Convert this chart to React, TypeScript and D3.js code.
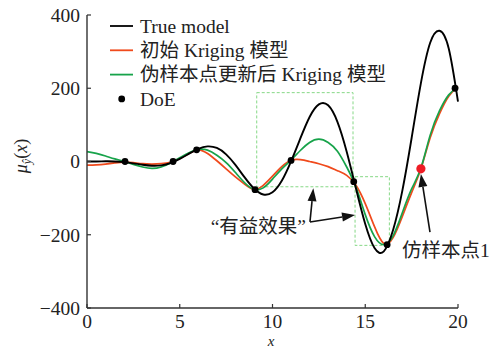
import { scaleLinear, line, curveNatural } from "d3"

// sample positions along x, shared by the three curves
const xs = [0, 0.5, 1, 1.5, 2, 2.5, 3, 3.5, 4, 4.5, 5, 5.5, 6, 6.5, 7, 7.5, 8, 8.5, 9, 9.5, 10,
  10.5, 11, 11.5, 12, 12.5, 13, 13.5, 14, 14.5, 15, 15.5, 16, 16.5, 17, 17.5, 18, 18.5, 19, 19.5, 20]
const trueModel = [0, 0.2, 0.5, 0.2, -1.7, -5, -8.9, -11.5, -10.5, -4.3, 7.1, 21.4, 34.6, 41.3, 36.9, 19.5,
  -9.3, -43.5, -73.8, -90, -83.9, -52.5, 0.5, 62.9, 121.5, 155.9, 153.4, 108.4, 26.8, -73.8, -170.9,
  -236.5, -245.2, -187.2, -79.5, 64.2, 213.9, 324.1, 356.9, 308.6, 163.2]
const initKriging = [-10, -9, -7, -4, -1.5, -3, -6, -7, -6, -2, 8, 22, 32, 22, 2, -20, -42, -62, -76, -65,
  -40, -14, 3, 5, 0, -6, -14, -25, -38, -65, -115, -178, -224, -208, -150, -85, -20, 65, 130, 178, 205]
const updKriging = [27, 22, 15, 7, 0.5, -8, -15, -19, -15, -4, 10, 24, 33, 31, 17, -3, -30, -58, -76, -72,
  -48, -20, 4, 30, 52, 61, 52, 28, -15, -70, -145, -205, -227, -203, -140, -75, -18, 72, 138, 182, 203]

const doeX = [2.05, 4.64, 5.91, 9.06, 11.0, 14.38, 16.18, 19.84]
const doeY = [0, 0, 32, -77, 3, -55, -227, 200]
const pseudoX = [18.0]
const pseudoY = [-20]

const xTicks = [0, 5, 10, 15, 20]
const yTicks = [-400, -200, 0, 200, 400]

const legendLabels = ["True model", "初始 Kriging 模型", "伪样本点更新后 Kriging 模型", "DoE"]

// dashed "beneficial effect" boxes: [x0, x1, y0, y1] in data units
const boxes = [[9.15, 14.34, -69, 188], [14.45, 16.3, -229, -41.5]]
// arrows: [fromX, fromY, toX, toY] in data units
const arrows = [[12.02, -165, 12.2, -73], [12.02, -165, 14.45, -146], [18.49, -193, 18.0, -34]]

const W = 491
const H = 350
const FONT = "'Liberation Serif', 'Times New Roman', 'Noto Sans CJK SC', serif"
const BLACK = "#000"
const ORANGE = "#f04a1c"
const GREEN = "#17a34a"
const BOXGREEN = "#86d886"

const Arrow = ({x1, y1, x2, y2}) => {
  const a = Math.atan2(y2 - y1, x2 - x1)
  const len = 13, hw = 4.5
  const bx = x2 - len * Math.cos(a), by = y2 - len * Math.sin(a)
  const px = -Math.sin(a) * hw, py = Math.cos(a) * hw
  return (
    <g>
      <line x1={x1} y1={y1} x2={bx} y2={by} stroke="#111" strokeWidth={1.6} />
      <polygon points={`${x2},${y2} ${bx + px},${by + py} ${bx - px},${by - py}`} fill="#111" />
    </g>
  )
}

const App = () => {
  const x = scaleLinear().domain([0, 20]).range([87, 458])
  const y = scaleLinear().domain([-400, 400]).range([308, 15])

  const path = line().x(d => x(d[0])).y(d => y(d[1])).curve(curveNatural)
  const series = [
    {vals: initKriging, color: ORANGE},
    {vals: updKriging, color: GREEN},
    {vals: trueModel, color: BLACK},
  ]

  const legendColors = [BLACK, ORANGE, GREEN]

  return (
    <svg width={W} height={H} viewBox={`0 0 ${W} ${H}`}
      style={{position: "absolute", left: 0, top: 0, background: "#fff"}} fontFamily={FONT}>
      {/* dashed boxes */}
      {boxes.map((b, i) => (
        <rect key={i} x={x(b[0])} y={y(b[3])} width={x(b[1]) - x(b[0])} height={y(b[2]) - y(b[3])}
          fill="none" stroke={BOXGREEN} strokeWidth={1} strokeDasharray="3,2" />
      ))}

      {series.map((s, i) => (
        <path key={i} d={path(xs.map((v, j) => [v, s.vals[j]]))} fill="none" stroke={s.color}
          strokeWidth={s.color === BLACK ? 1.9 : 1.7} />
      ))}

      {doeX.map((d, i) => (
        <circle key={i} cx={x(d)} cy={y(doeY[i])} r={3.4} fill="#000" />
      ))}
      {pseudoX.map((d, i) => (
        <circle key={i} cx={x(d)} cy={y(pseudoY[i])} r={4.6} fill="#ee1c24" />
      ))}

      {/* axes */}
      <line x1={87} x2={87} y1={15} y2={308} stroke="#333" strokeWidth={1.4} />
      <line x1={87} x2={458} y1={308} y2={308} stroke="#333" strokeWidth={1.4} />
      {yTicks.map(t => (
        <g key={t}>
          <line x1={87} x2={91} y1={y(t)} y2={y(t)} stroke="#333" strokeWidth={1.2} />
          <text x={80} y={y(t)} dy="0.35em" textAnchor="end" fontSize={19.5} fill="#222">
            {t < 0 ? `\u2212${-t}` : t}
          </text>
        </g>
      ))}
      {xTicks.map(t => (
        <g key={t}>
          <line x1={x(t)} x2={x(t)} y1={308} y2={304} stroke="#333" strokeWidth={1.2} />
          <text x={x(t)} y={327.5} textAnchor="middle" fontSize={19.5} fill="#222">{t}</text>
        </g>
      ))}
      <text x={271} y={346} textAnchor="middle" fontSize={15} fontStyle="italic" fill="#222">x</text>
      <text transform="translate(27,156) rotate(-90)" textAnchor="middle" fontSize={18} fill="#222">
        <tspan fontStyle="italic">μ</tspan>
        <tspan fontStyle="italic" fontSize={12} dy={4}>ŷ</tspan>
        <tspan dy={-4}>(</tspan>
        <tspan fontStyle="italic">x</tspan>
        <tspan>)</tspan>
      </text>

      {/* legend */}
      {legendLabels.map((l, i) => {
        const ly = 26 + i * 24.3
        return (
          <g key={l}>
            {i < 3
              ? <line x1={110} x2={133} y1={ly} y2={ly} stroke={legendColors[i]} strokeWidth={1.8} />
              : <circle cx={121.7} cy={ly} r={3.4} fill="#000" />}
            <text x={140} y={ly} dy="0.35em" fontSize={19.5} fill="#222">{l}</text>
          </g>
        )
      })}

      {/* annotations */}
      {arrows.map((a, i) => (
        <Arrow key={i} x1={x(a[0])} y1={y(a[1])} x2={x(a[2])} y2={y(a[3])} />
      ))}
      <text x={306} y={226} dy="0.35em" textAnchor="end" fontSize={19.5} fill="#222">“有益效果”</text>
      <text x={402} y={250} dy="0.35em" fontSize={19.5} fill="#222">仿样本点1</text>
    </svg>
  )
}

export default App
